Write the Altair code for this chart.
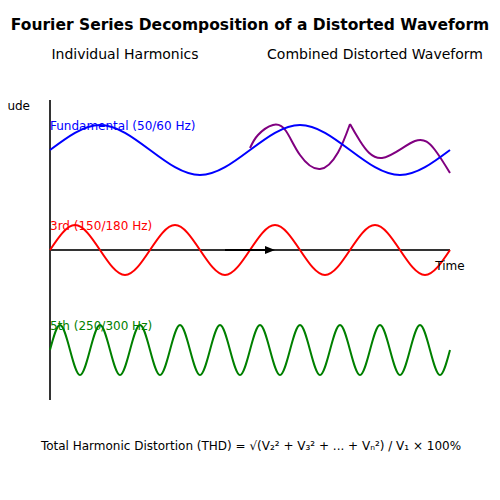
import altair as alt
import pandas as pd

# time t = 0..4 (two fundamental cycles), amplitude in units (1 = peak)
fund_t = [0, 0.5, 1.0, 1.5, 2.0, 2.5, 3.0, 3.5, 4.0]
fund_v = [0, 1, 0, -1, 0, 1, 0, -1, 0]
fund_offset = 4

h3_t = [i * 0.25 for i in range(17)]
h3_v = [0, 1, 0, -1] * 4 + [0]
h3_offset = 0

h5_t = [round(i * 0.1, 2) for i in range(41)]
h5_v = [0, 1, 0, -1] * 10 + [0]
h5_offset = -4

comb_a_t = [2.0, 2.08, 2.23, 2.36, 2.5, 2.7, 2.88, 3.0]
comb_a_v = [0.08, 0.6, 1.0, 0.76, -0.2, -0.76, -0.1, 1.04]
comb_b_t = [3.0, 3.1, 3.32, 3.65, 3.85, 4.0]
comb_b_v = [1.04, 0.36, -0.32, 0.36, 0.0, -0.92]
comb_offset = 4

rows = []
for t, v in zip(fund_t, fund_v):
    rows.append({"t": t, "v": v + fund_offset, "s": "fund"})
for t, v in zip(h3_t, h3_v):
    rows.append({"t": t, "v": v + h3_offset, "s": "h3"})
for t, v in zip(h5_t, h5_v):
    rows.append({"t": t, "v": v + h5_offset, "s": "h5"})
waves = pd.DataFrame(rows)

crows = []
for t, v in zip(comb_a_t, comb_a_v):
    crows.append({"t": t, "v": v + comb_offset, "s": "combA"})
for t, v in zip(comb_b_t, comb_b_v):
    crows.append({"t": t, "v": v + comb_offset, "s": "combB"})
comb = pd.DataFrame(crows)

xs = alt.Scale(domain=[-0.42, 4.42], nice=False, zero=False)
ys = alt.Scale(domain=[-9.68, 9.68], nice=False, zero=False)
X = lambda f: alt.X(f, scale=xs, axis=None)
Y = lambda f: alt.Y(f, scale=ys, axis=None)

series = ["fund", "h3", "h5"]
colors = ["blue", "red", "green"]

lines = alt.Chart(waves).mark_line(interpolate="natural", strokeWidth=2).encode(
    x=X("t:Q"), y=Y("v:Q"),
    color=alt.Color("s:N", scale=alt.Scale(domain=series, range=colors), legend=None),
    detail="s:N",
)

comb_line = alt.Chart(comb).mark_line(interpolate="natural", strokeWidth=2, color="purple").encode(
    x=X("t:Q"), y=Y("v:Q"), detail="s:N",
)

axes_df = pd.DataFrame([
    {"t": 0, "t2": 0, "v": -6, "v2": 6},
    {"t": 0, "t2": 4, "v": 0, "v2": 0},
])
axes = alt.Chart(axes_df).mark_rule(color="#333", strokeWidth=2).encode(
    x=X("t:Q"), x2="t2:Q", y=Y("v:Q"), y2="v2:Q"
)

arrow_df = pd.DataFrame([{"t": 1.75, "t2": 2.17, "v": 0}])
arrow = alt.Chart(arrow_df).mark_rule(color="black", strokeWidth=2).encode(
    x=X("t:Q"), x2="t2:Q", y=Y("v:Q")
)
head_df = pd.DataFrame([{"t": 2.2, "v": 0}])
head = alt.Chart(head_df).mark_point(
    shape="M-1,-0.8L1,0L-1,0.8Z", filled=True, color="black", opacity=1, size=100
).encode(x=X("t:Q"), y=Y("v:Q"))

FONT = "DejaVu Sans"

def txt(df, **kw):
    return alt.Chart(pd.DataFrame(df)).mark_text(font=FONT, baseline="middle", **kw).encode(
        x=X("t:Q"), y=Y("v:Q"), text="label:N"
    )

title = txt([{"t": 2.0, "v": 9.0, "label": "Fourier Series Decomposition of a Distorted Waveform"}],
            fontSize=15.5, fontWeight="bold", color="black", align="center")
subs = txt([{"t": 0.75, "v": 7.8, "label": "Individual Harmonics"},
            {"t": 3.25, "v": 7.8, "label": "Combined Distorted Waveform"}],
           fontSize=14, color="black", align="center")
amp = txt([{"t": -0.2, "v": 5.76, "label": "Amplitude"}], fontSize=12, color="black", align="right")
time_l = txt([{"t": 4.0, "v": -0.64, "label": "Time"}], fontSize=12, color="black", align="center")
lab_f = txt([{"t": 0, "v": 4.96, "label": "Fundamental (50/60 Hz)"}], fontSize=12, color="blue", align="left")
lab_3 = txt([{"t": 0, "v": 0.96, "label": "3rd (150/180 Hz)"}], fontSize=12, color="red", align="left")
lab_5 = txt([{"t": 0, "v": -3.04, "label": "5th (250/300 Hz)"}], fontSize=12, color="green", align="left")
footer = txt([{"t": 2.01, "v": -7.84, "label": "Total Harmonic Distortion (THD) = √(V₂² + V₃² + ... + Vₙ²) / V₁ × 100%"}],
             fontSize=12, color="black", align="center")

chart = alt.layer(
    axes, comb_line, lines, arrow, head, title, subs, amp, time_l, lab_f, lab_3, lab_5, footer
).properties(
    width=484, height=484, autosize=alt.AutoSizeParams(type="none"), padding=0
).configure_view(stroke=None)

chart.save("out.html", embed_options={"renderer": "svg", "actions": False})
